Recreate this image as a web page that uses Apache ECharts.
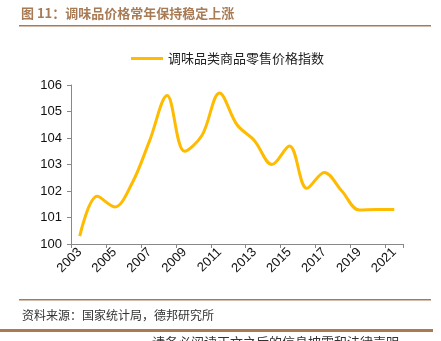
<!DOCTYPE html>
<html><head><meta charset="utf-8">
<script src="https://cdn.jsdelivr.net/npm/echarts@6/dist/echarts.min.js"></script>
<style>html,body{margin:0;padding:0;background:#fff}#c{width:441px;height:341px}</style>
</head><body><div id="c"></div>
<script>
const years = ['2003','2004','2005','2006','2007','2008','2009','2010','2011','2012','2013','2014','2015','2016','2017','2018','2019','2020','2021'];
const priceIndex = [100.3,101.8,101.4,102.3,103.9,105.6,103.5,104.1,105.7,104.5,103.9,103.0,103.7,102.1,102.7,102.0,101.28,101.3,101.3];
const seriesName = '调味品类商品零售价格指数';
const titleText = '图 11：调味品价格常年保持稳定上涨';
const sourceText = '资料来源：国家统计局，德邦研究所';
const footerText = '请务必阅读正文之后的信息披露和法律声明';

const brown = '#a87b55';
const chart = echarts.init(document.getElementById('c'), null, {renderer:'canvas'});
chart.setOption({
  animation:false,
  backgroundColor:'#fff',
  textStyle:{fontFamily:'"Noto Sans CJK SC", sans-serif'},
  grid:{left:71,right:38,top:85,bottom:97,containLabel:false},
  legend:{
    top:47,left:126,
    itemWidth:32,itemHeight:3,itemGap:5,
    icon:'rect',
    textStyle:{fontSize:13,color:'#222',fontFamily:'"Noto Sans CJK SC", sans-serif'},
    data:[seriesName]
  },
  xAxis:{
    type:'category',data:years,boundaryGap:true,
    axisLine:{lineStyle:{color:'#888',width:1}},
    axisTick:{show:true,interval:1,length:4,lineStyle:{color:'#888'}},
    axisLabel:{interval:1,rotate:45,fontSize:13,color:'#111',margin:6,fontFamily:'Liberation Sans, Arial, sans-serif'},
    splitLine:{show:false}
  },
  yAxis:{
    type:'value',min:100,max:106,interval:1,
    axisLine:{show:true,lineStyle:{color:'#888',width:1}},
    axisTick:{show:true,length:4,lineStyle:{color:'#888'}},
    axisLabel:{fontSize:13,color:'#111',margin:9,fontFamily:'Liberation Sans, Arial, sans-serif'},
    splitLine:{show:false}
  },
  series:[{
    name:seriesName,type:'line',data:priceIndex,smooth:0.35,
    showSymbol:false,symbol:'none',
    lineStyle:{color:'#ffbb00',width:3},
    itemStyle:{color:'#ffbb00'}
  }],
  graphic:[
    {type:'text',left:21,top:7,style:{text:titleText,fontSize:13,fontWeight:'bold',fill:brown,fontFamily:'"Noto Sans CJK SC", sans-serif'}},
    {type:'rect',shape:{x:19,y:25,width:412,height:1.5},style:{fill:brown}},
    {type:'rect',shape:{x:19,y:299,width:412,height:1.5},style:{fill:brown}},
    {type:'text',left:22,top:309,style:{text:sourceText,fontSize:12,fill:'#333',fontFamily:'"Noto Sans CJK SC", sans-serif'}},
    {type:'rect',shape:{x:0,y:329,width:433,height:3},style:{fill:brown}},
    {type:'text',left:152,top:336,style:{text:footerText,fontSize:13,fill:'#333',fontFamily:'"Noto Sans CJK SC", sans-serif'}}
  ]
});
</script></body></html>
